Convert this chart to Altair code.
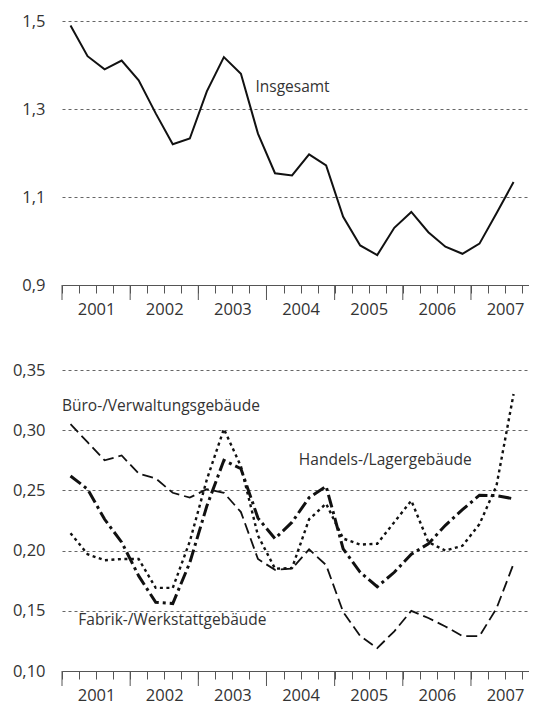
import altair as alt
import pandas as pd

# ---- data (quarterly, 2001 Q1 .. 2007 Q3) ----
years = [2001, 2002, 2003, 2004, 2005, 2006, 2007]
quarter_index = list(range(27))

insgesamt = [1.49, 1.42, 1.39, 1.41, 1.365, 1.29, 1.22, 1.233, 1.34, 1.418,
             1.38, 1.244, 1.154, 1.149, 1.197, 1.172, 1.055, 0.99, 0.968,
             1.03, 1.066, 1.02, 0.987, 0.971, 0.994, 1.063, 1.134]

buero = [0.305, 0.29, 0.275, 0.279, 0.264, 0.26, 0.248, 0.244, 0.251, 0.248,
         0.232, 0.193, 0.184, 0.185, 0.201, 0.188, 0.149, 0.129, 0.119,
         0.133, 0.150, 0.144, 0.137, 0.129, 0.129, 0.152, 0.189]

handel = [0.2145, 0.197, 0.192, 0.193, 0.193, 0.169, 0.169, 0.2076, 0.259,
          0.301, 0.27, 0.2125, 0.185, 0.1855, 0.226, 0.239, 0.21, 0.205,
          0.2057, 0.2236, 0.2415, 0.207, 0.2, 0.204, 0.222, 0.254, 0.33]

fabrik = [0.262, 0.251, 0.226, 0.207, 0.179, 0.157, 0.156, 0.19, 0.237,
          0.275, 0.268, 0.227, 0.21, 0.2236, 0.244, 0.2534, 0.2015, 0.182,
          0.17, 0.182, 0.197, 0.2057, 0.221, 0.234, 0.246, 0.2457, 0.243]

top_ticks = [0.9, 1.1, 1.3, 1.5]
bottom_ticks = [0.10, 0.15, 0.20, 0.25, 0.30, 0.35]

series_names = ["Büro-/Verwaltungsgebäude", "Handels-/Lagergebäude",
                "Fabrik-/Werkstattgebäude"]

top_label = ["Insgesamt"]
top_label_pos = [(11.35, 1.349)]
bottom_label_pos = [(0.0, 0.32), (13.9, 0.275), (0.96, 0.142)]

# ---- tables ----
xs = [q + 0.5 for q in quarter_index]
df_top = pd.DataFrame({"x": xs, "y": insgesamt})
df_bot = pd.DataFrame({
    "x": xs * 3,
    "y": buero + handel + fabrik,
    "s": [series_names[0]] * 27 + [series_names[1]] * 27 + [series_names[2]] * 27,
})
df_year_ticks = pd.DataFrame({"x": [4 * i for i in range(len(years))]})
df_top_lab = pd.DataFrame({"t": top_label,
                           "x": [p[0] for p in top_label_pos],
                           "y": [p[1] for p in top_label_pos]})
df_bot_lab = pd.DataFrame({"t": series_names,
                           "x": [p[0] for p in bottom_label_pos],
                           "y": [p[1] for p in bottom_label_pos]})

W = 467
H_TOP = 264
H_BOT = 301
FONT = "Open Sans"
TXT = "#333333"
AX = "#555555"

xscale = alt.Scale(domain=[0, W / 17.04], nice=False, zero=False)
year_expr = "datum.value % 4 === 2 ? toString(2001 + (datum.value - 2) / 4) : ''"
xaxis = alt.Axis(values=list(range(28)), tickSize=8, labelExpr=year_expr,
                 title=None, grid=False, labelPadding=8, labelOverlap=False,
                 labelFlush=False, labelBaseline="top")


def panel(df_lines, df_labels, ydomain, yvalues, fmt, H, line_enc):
    yscale = alt.Scale(domain=ydomain, nice=False, zero=False)
    yaxis = alt.Axis(values=yvalues, title=None, domain=False, ticks=False,
                     labelPadding=17, minExtent=50, maxExtent=50,
                     labelExpr=f"replace(format(datum.value, '{fmt}'), '.', ',')",
                     grid=True, gridDash=[3, 3], gridColor=AX, gridWidth=0.9)
    X = alt.X("x:Q", scale=xscale, axis=xaxis)
    Y = alt.Y("y:Q", scale=yscale, axis=yaxis)
    lines = line_enc(alt.Chart(df_lines), X, Y)
    ticks = alt.Chart(df_year_ticks).mark_rule(color=AX, strokeWidth=1).encode(
        x=X, y=alt.value(H), y2=alt.value(H + 15))
    labels = alt.Chart(df_labels).mark_text(
        align="left", baseline="middle", font=FONT, fontSize=15.5, color=TXT
    ).encode(x=X, y=Y, text="t:N")
    return alt.layer(lines, ticks, labels).properties(width=W, height=H)


def top_lines(c, X, Y):
    return c.mark_line(color="#111111", strokeWidth=2).encode(x=X, y=Y)


def bot_lines(c, X, Y):
    return c.mark_line(color="#111111").encode(
        x=X, y=Y,
        detail="s:N",
        strokeDash=alt.StrokeDash("s:N", scale=alt.Scale(
            domain=series_names,
            range=[[11, 5], [3, 3.5], [13, 4, 3, 4]]), legend=None),
        strokeWidth=alt.StrokeWidth("s:N", scale=alt.Scale(
            domain=series_names, range=[1.8, 3, 2.8]), legend=None))


top = panel(df_top, df_top_lab, [0.9, 1.5], top_ticks, ".1f", H_TOP, top_lines)
bottom = panel(df_bot, df_bot_lab, [0.10, 0.35], bottom_ticks, ".2f", H_BOT, bot_lines)

chart = alt.vconcat(top, bottom, spacing=44).properties(
    padding={"left": 4, "top": 5, "right": 0, "bottom": 0}
).configure_view(stroke=None).configure_axis(
    labelFont=FONT, labelFontSize=16.5, labelColor=TXT,
    domainColor=AX, tickColor=AX, domainWidth=1, tickWidth=1
)

chart.save("out.html", embed_options={"renderer": "svg", "actions": False})
